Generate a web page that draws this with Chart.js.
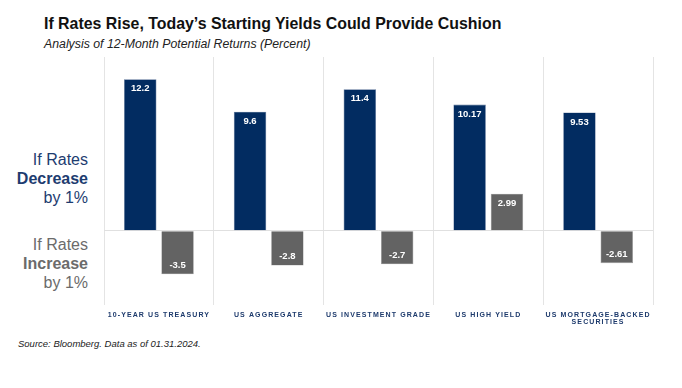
<!DOCTYPE html>
<html>
<head>
<meta charset="utf-8">
<script src="https://cdn.jsdelivr.net/npm/chart.js@4/dist/chart.umd.min.js"></script>
<style>
  html, body { margin: 0; padding: 0; background: #fff; }
  body { width: 682px; height: 388px; position: relative; overflow: hidden; font-family: "Liberation Sans", Arial, sans-serif; }
  #wrap { position: absolute; left: 0; top: 0; width: 682px; height: 388px; }
  .t { position: absolute; white-space: nowrap; }
  #title { left: 44px; top: 14px; font-size: 15.9px; line-height: 19px; font-weight: bold; color: #111; }
  #sub { left: 44px; top: 37px; font-size: 12.3px; line-height: 14px; font-style: italic; color: #222; }
  #src { left: 18px; top: 338px; font-size: 9.5px; line-height: 11px; font-style: italic; color: #222; }
  .side { position: absolute; right: 594px; text-align: right; font-size: 16px; line-height: 19px; }
  #dec { top: 150px; color: #1d3c70; }
  #inc { top: 235px; color: #6b6b6b; }
</style>
</head>
<body>
<div class="t" id="title">If Rates Rise, Today’s Starting Yields Could Provide Cushion</div>
<div class="t" id="sub">Analysis of 12-Month Potential Returns (Percent)</div>
<div class="side" id="dec">If Rates<br><b>Decrease</b><br>by 1%</div>
<div class="side" id="inc">If Rates<br><b>Increase</b><br>by 1%</div>
<div class="t" id="src">Source: Bloomberg. Data as of 01.31.2024.</div>
<div id="wrap"><canvas id="mycanvas" width="682" height="388"></canvas></div>
<script>
var categories = ['10-YEAR US TREASURY', 'US AGGREGATE', 'US INVESTMENT GRADE', 'US HIGH YIELD', ['US MORTGAGE-BACKED', 'SECURITIES']];
var rateDecrease = [12.2, 9.6, 11.4, 10.17, 9.53];
var rateIncrease = [-3.5, -2.8, -2.7, 2.99, -2.61];
var valueText = [
  ['12.2', '9.6', '11.4', '10.17', '9.53'],
  ['-3.5', '-2.8', '-2.7', '2.99', '-2.61']
];

// white labels inside the bar ends
var barLabels = {
  id: 'barLabels',
  beforeDraw: function (chart) {
    chart.ctx.letterSpacing = '1.1px';
  },
  beforeDatasetsDraw: function (chart) {
    chart.ctx.letterSpacing = '0px';
  },
  afterDatasetsDraw: function (chart) {
    var ctx = chart.ctx;
    ctx.save();
    ctx.fillStyle = '#fff';
    ctx.font = 'bold 9.5px "Liberation Sans", Arial, sans-serif';
    ctx.textAlign = 'center';
    ctx.textBaseline = 'middle';
    chart.data.datasets.forEach(function (ds, di) {
      var meta = chart.getDatasetMeta(di);
      meta.data.forEach(function (bar, i) {
        var y = ds.data[i] >= 0 ? bar.y + 9.5 : bar.y - 9;
        ctx.fillText(valueText[di][i], bar.x, y);
      });
    });
    ctx.restore();
  }
};

var ctx = document.getElementById('mycanvas');
var barGraph = new Chart(ctx, {
  type: 'bar',
  data: {
    labels: categories,
    datasets: [
      {
        label: 'If Rates Decrease by 1%',
        data: rateDecrease,
        backgroundColor: '#022c61',
        borderColor: '#5c7398',
        borderWidth: 0.6,
        categoryPercentage: 0.68,
        barPercentage: 0.87
      },
      {
        label: 'If Rates Increase by 1%',
        data: rateIncrease,
        backgroundColor: '#636363',
        borderColor: '#9a9a9a',
        borderWidth: 0.6,
        categoryPercentage: 0.68,
        barPercentage: 0.87
      }
    ]
  },
  options: {
    responsive: false,
    animation: false,
    layout: { padding: { left: 104, right: 29, top: 57, bottom: 56 } },
    plugins: {
      legend: { display: false },
      tooltip: { enabled: false }
    },
    scales: {
      x: {
        grid: { color: '#e4e4e4', lineWidth: 1, drawTicks: false, offset: true },
        border: { display: false },
        ticks: {
          color: '#1d3a6c',
          font: { family: '"Liberation Sans", Arial, sans-serif', size: 7, weight: 'bold', lineHeight: 1.05 },
          padding: 6,
          maxRotation: 0,
          autoSkip: false
        }
      },
      y: {
        min: -6,
        max: 14,
        ticks: { display: false, stepSize: 2 },
        border: { display: false },
        grid: {
          drawTicks: false,
          color: function (c) { return c.tick && c.tick.value === 0 ? '#e0e0e0' : 'rgba(0,0,0,0)'; }
        }
      }
    }
  },
  plugins: [barLabels]
});
</script>
</body>
</html>
